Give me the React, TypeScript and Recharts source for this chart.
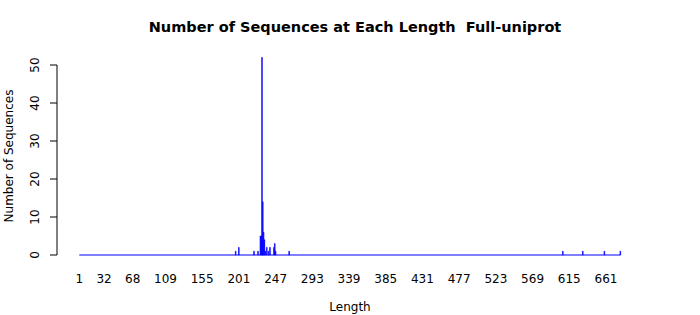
import React from 'react';
import { BarChart, Bar, XAxis, YAxis, ReferenceLine } from 'recharts';

const lengths = [197, 201, 220, 225, 228, 229, 230, 231, 232, 233, 234, 236, 238, 240, 245, 246, 247, 264, 607, 632, 659, 679];
const counts = [1, 2, 1, 1, 5, 5, 52, 14, 6, 4, 1, 2, 1, 2, 2, 3, 1, 1, 1, 1, 1, 1];
const xTicks = [1, 32, 68, 109, 155, 201, 247, 293, 339, 385, 431, 477, 523, 569, 615, 661];
const yTicks = [0, 10, 20, 30, 40, 50];
const minLength = 1;
const maxLength = 679;

const data = lengths.map((l, i) => ({ length: l, count: counts[i] }));

const FONT = 'DejaVu Sans, sans-serif';

const XTick = (props: any) => {
  const { x, payload } = props;
  return (
    <text x={x} y={279} textAnchor="middle" dominantBaseline="central" fontSize={12} fontFamily={FONT} fill="#000">
      {payload.value}
    </text>
  );
};

const YTick = (props: any) => {
  const { y, payload } = props;
  return (
    <text x={35} y={y} transform={`rotate(-90 35 ${y})`} textAnchor="middle" dominantBaseline="central" fontSize={12} fontFamily={FONT} fill="#000">
      {payload.value}
    </text>
  );
};

export default function App() {
  return (
    <div style={{ position: 'absolute', left: 0, top: 0, width: 700, height: 315, background: '#fff', fontFamily: FONT }}>
      <BarChart width={700} height={315} data={data} margin={{ top: 46, right: 60, bottom: 30, left: 17 }}>
        <XAxis
          dataKey="length"
          type="number"
          domain={[-26.94, 703.63]}
          allowDataOverflow
          ticks={xTicks}
          interval={0}
          axisLine={false}
          tickLine={false}
          height={30}
          tick={<XTick />}
        />
        <YAxis
          type="number"
          domain={[0, 55]}
          ticks={yTicks}
          interval={0}
          width={40}
          axisLine={false}
          tickSize={7}
          tickLine={{ stroke: '#000' }}
          tick={<YTick />}
        />
        <ReferenceLine segment={[{ x: -26.94, y: 0 }, { x: -26.94, y: 50 }]} stroke="#000" ifOverflow="visible" />
        <ReferenceLine segment={[{ x: minLength, y: 0 }, { x: maxLength, y: 0 }]} stroke="#0000ff" ifOverflow="visible" />
        <Bar dataKey="count" fill="#0000ff" stroke="#0000ff" strokeWidth={0.6} barSize={1.2} isAnimationActive={false} />
      </BarChart>
      <div style={{ position: 'absolute', left: 0, width: 710, top: 19, textAlign: 'center', fontWeight: 'bold', fontSize: 14.5, whiteSpace: 'pre', color: '#000' }}>
        {'Number of Sequences at Each Length  Full-uniprot'}
      </div>
      <div style={{ position: 'absolute', left: 300, width: 100, top: 300, textAlign: 'center', fontSize: 12, color: '#000' }}>
        Length
      </div>
      <div style={{ position: 'absolute', left: 9, top: 157, width: 0, height: 0 }}>
        <div style={{ position: 'absolute', left: -100, top: -8, width: 200, textAlign: 'center', fontSize: 12, whiteSpace: 'nowrap', transform: 'rotate(-90deg)', color: '#000' }}>
          Number of Sequences
        </div>
      </div>
    </div>
  );
}
